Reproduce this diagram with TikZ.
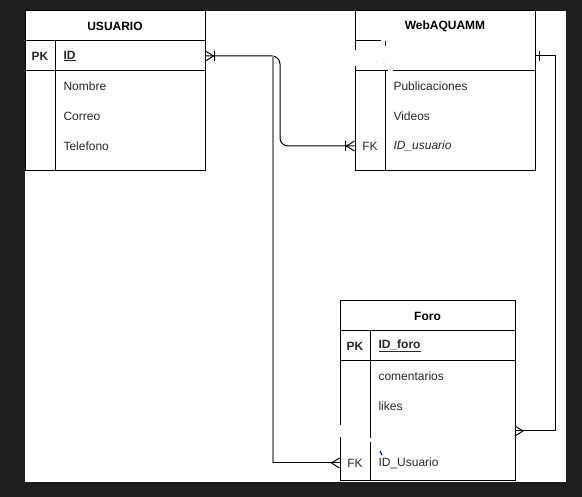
\documentclass[tikz,border=0pt]{standalone}
\usepackage{fontspec}
\setmainfont{Liberation Sans}
\usetikzlibrary{positioning}

\definecolor{bgdark}{RGB}{30,30,30}
\definecolor{edgegray}{RGB}{136,136,136}
\definecolor{fldtext}{RGB}{40,40,40}

\begin{document}
\begin{tikzpicture}[
  x=1pt, y=-1pt,
  font=\fontsize{12}{14}\selectfont,
  line width=1pt,
  title/.style={font=\fontsize{12}{14}\selectfont\bfseries, inner sep=0pt},
  keylbl/.style={minimum width=30pt, inner sep=0pt, text=fldtext},
  pklbl/.style={keylbl, font=\fontsize{12}{14}\selectfont\bfseries},
  fld/.style={anchor=west, inner sep=0pt, text=fldtext},
  pkfld/.style={fld, font=\fontsize{12}{14}\selectfont\bfseries},
  rowbox/.style={minimum width=#1, minimum height=30pt, inner sep=0pt},
  rel/.style={line width=1pt, line join=round}
]
% canvas
\fill[bgdark] (0,0) rectangle (582,497);
\fill[white] (25,11) rectangle (566,482);
\useasboundingbox (0,0) rectangle (582,497);

% USUARIO
\draw (25,11) rectangle (205,171);
\draw (25,41) -- (205,41) (25,71) -- (205,71) (55,41) -- (55,171);
\node[title] (usuario) at (115,26) {USUARIO};
\node[rowbox=180pt] (usuario-row1) at (115,56) {};
\node[pklbl] (usuario-pk) at (40,56) {PK};
\node[pkfld] (usuario-id) at (63,56) {\underline{ID}};
\node[fld] (usuario-nombre) at (63,86) {Nombre};
\node[fld] (usuario-correo) at (63,116) {Correo};
\node[fld] (usuario-tel) at (63,146) {Telefono};

% WebAQUAMM (fila PK borrada)
\draw (355,50) -- (355,11) -- (535,11) -- (535,171) -- (355,171) -- (355,66);
\draw (355,41) -- (381,41) (385,41) -- (385,46);
\draw (355,71) -- (388,71) (393,71) -- (535,71);
\draw (385,71) -- (385,171);
\fill[black!30] (377,62) circle (0.7) (384,63) circle (0.6);
\node[title] (web) at (445,26) {WebAQUAMM};
\node[rowbox=180pt] (web-row1) at (445,56) {};
\node[fld] (web-pub) at (393,86) {Publicaciones};
\node[fld] (web-vid) at (393,116) {Videos};
\node[keylbl] (web-fk) at (370,146) {FK};
\node[fld, font=\fontsize{12}{14}\selectfont\itshape] (web-idu) at (393,146) {ID\_usuario};

% Foro
\draw (340,425) -- (340,301) -- (515,301) -- (515,481) -- (340,481) -- (340,437);
\draw (340,331) -- (515,331) (340,361) -- (515,361);
\draw (370,331) -- (370,438) (370,442) -- (370,481);
\node[title] (foro) at (427.5,316) {Foro};
\node[pklbl] (foro-pk) at (355,346) {PK};
\node[pkfld] (foro-id) at (378,346) {\underline{ID\_foro}};
\node[fld] (foro-com) at (378,376) {comentarios};
\node[fld] (foro-likes) at (378,406) {likes};
\coordinate (foro-r4) at (515,431);
\node[keylbl] (foro-fk) at (355,463) {FK};
\node[fld] (foro-idu) at (378,463) {ID\_Usuario};
\draw[blue, line width=1.2pt] (380,451) -- (382,455);

% relaciones
\coordinate (bend-top) at (273,56);
\coordinate (bend-bot) at (273,463);
\draw[rel, rounded corners=8pt] (usuario-row1.east) -- (280,56) -- (280,146) -- (web-fk.west);
\draw[edgegray, line width=1.5pt] (bend-top) -- (bend-bot);
\draw[rel] (bend-bot) -- (foro-fk.west);
\draw[rel] (web-row1.east) -- (555,56) -- (555,431) -- (foro-r4);

% terminaciones
\draw[rel] (usuario-row1.east) ++(0,-5) -- ++(8,5) -- ++(-8,5) ++(9,-10) -- ++(0,10);
\draw[rel] (web-fk.west) ++(0,-5) -- ++(-8,5) -- ++(8,5) ++(-9,-10) -- ++(0,10);
\draw[rel] (foro-fk.west) ++(0,-5) -- ++(-8,5) -- ++(8,5);
\draw[rel] (foro-r4) ++(0,-5) -- ++(8,5) -- ++(-8,5);
\draw[rel] (web-row1.east) ++(4,-5) -- ++(0,10);
\end{tikzpicture}
\end{document}
